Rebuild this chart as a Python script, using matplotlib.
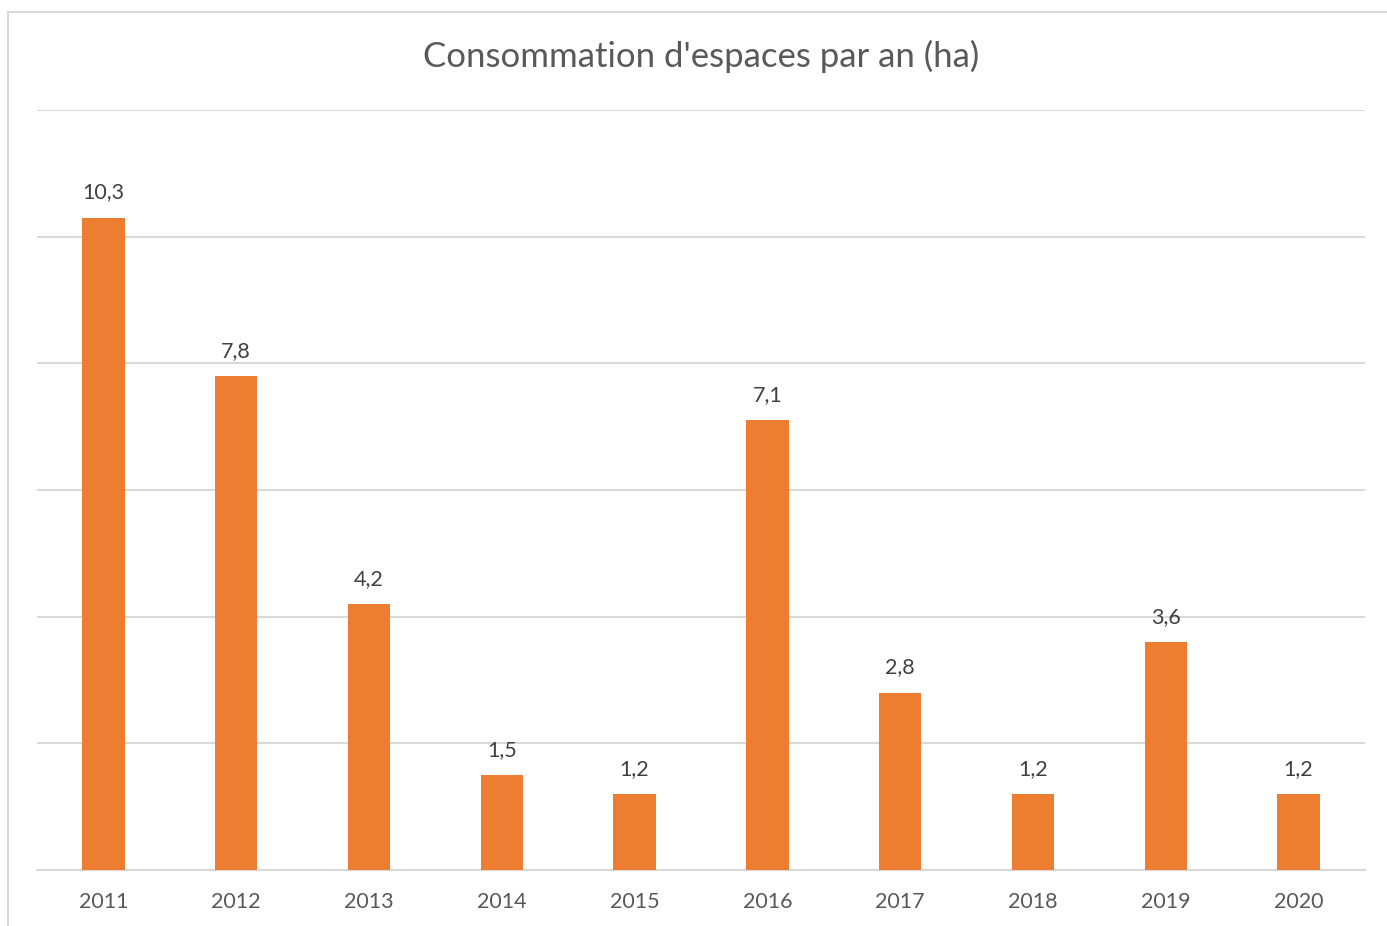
import matplotlib.pyplot as plt
from matplotlib.lines import Line2D

years = ['2011', '2012', '2013', '2014', '2015', '2016', '2017', '2018', '2019', '2020']
values = [10.3, 7.8, 4.2, 1.5, 1.2, 7.1, 2.8, 1.2, 3.6, 1.2]
labels = ['10,3', '7,8', '4,2', '1,5', '1,2', '7,1', '2,8', '1,2', '3,6', '1,2']

orange = '#ED7D31'
grey_text = '#595959'
grid_col = '#D9D9D9'

plt.rcParams['font.family'] = ['Lato', 'DejaVu Sans']

W, H = 1387, 926
fig = plt.figure(figsize=(W / 100, H / 100), dpi=100)

# plot area in pixels -> figure fraction
left, right, top, bottom = 37, 1365, 110, 870
ax = fig.add_axes([left / W, 1 - bottom / H, (right - left) / W, (bottom - top) / H])

x = range(len(years))
ax.bar(x, values, width=0.32, color=orange, zorder=3)
for xi, v, lab in zip(x, values, labels):
    ax.text(xi, v + 0.24, lab, ha='center', va='bottom', fontsize=15.5, color='#404040')

ax.set_xlim(-0.5, len(years) - 0.5)
ax.set_ylim(0, 12)
ax.set_yticks(range(0, 13, 2))
ax.yaxis.grid(True, color=grid_col, linewidth=1.5)
ax.tick_params(axis='y', left=False, labelleft=False)
ax.set_xticks(list(x))
ax.set_xticklabels(years, fontsize=15.5, color=grey_text)
ax.tick_params(axis='x', length=0, pad=16)
for s in ['top', 'right', 'left']:
    ax.spines[s].set_visible(False)
ax.spines['bottom'].set_color(grid_col)
ax.spines['bottom'].set_linewidth(1.5)

fig.text(0.5 * (left + right) / W, 1 - 56 / H, "Consommation d'espaces par an (ha)",
         ha='center', va='center', fontsize=25, color=grey_text)

# chart frame (only top and left edges visible in the crop)
fig.add_artist(Line2D([8 / W, 8 / W], [0, 1 - 12 / H], color=grid_col, linewidth=1.5))
fig.add_artist(Line2D([8 / W, 1], [1 - 12 / H, 1 - 12 / H], color=grid_col, linewidth=1.5))

fig.savefig('out.png', dpi=100, facecolor='white')
